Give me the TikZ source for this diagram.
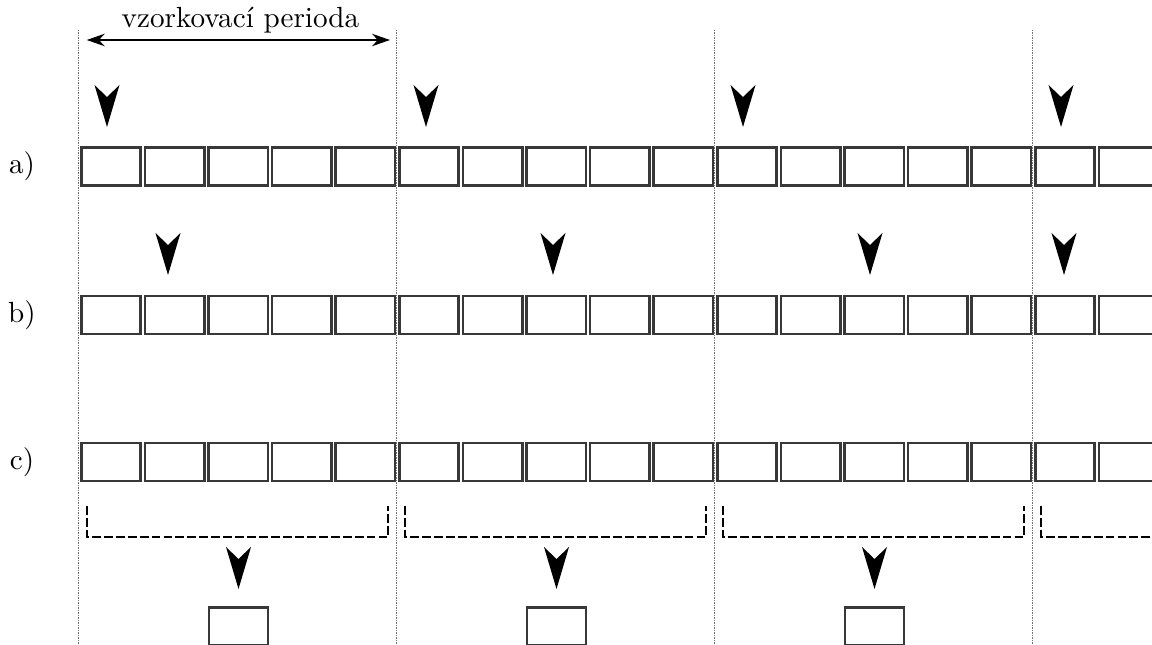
\documentclass[tikz,border=0pt]{standalone}
\usepackage{tikz}
\usetikzlibrary{arrows.meta}

\begin{document}
\begin{tikzpicture}[x=0.36pt,y=-0.36pt,
    cell/.style={draw=black!78,line width=0.95pt,minimum width=21.35pt,minimum height=13.8pt,inner sep=0pt},
    hranice/.style={black!55,line width=0.5pt,dash pattern=on 0.5pt off 0.4pt},
    skupina/.style={line width=0.5pt,dash pattern=on 3.2pt off 1.1pt},
    lbl/.style={font=\fontsize{10.5}{12}\selectfont,inner sep=0pt},
    pics/sipka/.style={code={\fill (0,0) -- (-12.5,-42) -- (0,-30) -- (12.5,-42) -- cycle;}}
]
\useasboundingbox (0,0) rectangle (1152,645);
\clip (0,0) rectangle (1152,645);

% hranice period
\foreach \j in {0,...,3}
  \draw[hranice] ({78.5+318*\j},30) -- ({78.5+318*\j},645);

% delka periody
\coordinate (p0) at (86.7,40);
\coordinate (p1) at (390,40);
\draw[{Stealth[length=6.5pt,width=4.5pt]}-{Stealth[length=6.5pt,width=4.5pt]},line width=0.5pt] (p0) -- (p1);
\node[lbl,anchor=base] (perioda) at (240.5,28) {vzorkovací perioda};

% rady vzorku
\foreach \r/\y in {a/166.5,b/315,c/462}{
  \node[lbl] (lbl\r) at (22,\y) {\r)};
  \foreach \k in {0,...,16}
    \node[cell] (\r\k) at ({111+63.6*\k},\y) {};
}

% a) prvni vzorek v periode
\foreach \x in {107,426,743,1061}
  \pic at (\x,127) {sipka};
% b) posunute vzorky
\foreach \x in {168,553,870,1064}
  \pic at (\x,275) {sipka};

% c) prumer pres periodu
\foreach \j in {0,...,3}
  \draw[skupina] ({78.5+318*\j+8.5},506) -- ({78.5+318*\j+8.5},537)
    -- ({78.5+318*\j+309.5},537) -- ({78.5+318*\j+309.5},506);
\foreach \j in {0,...,2}{
  \pic at ({238.5+318*\j},589) {sipka};
  \node[cell] (v\j) at ({238.5+318*\j},626.5) {};
}
\end{tikzpicture}
\end{document}
